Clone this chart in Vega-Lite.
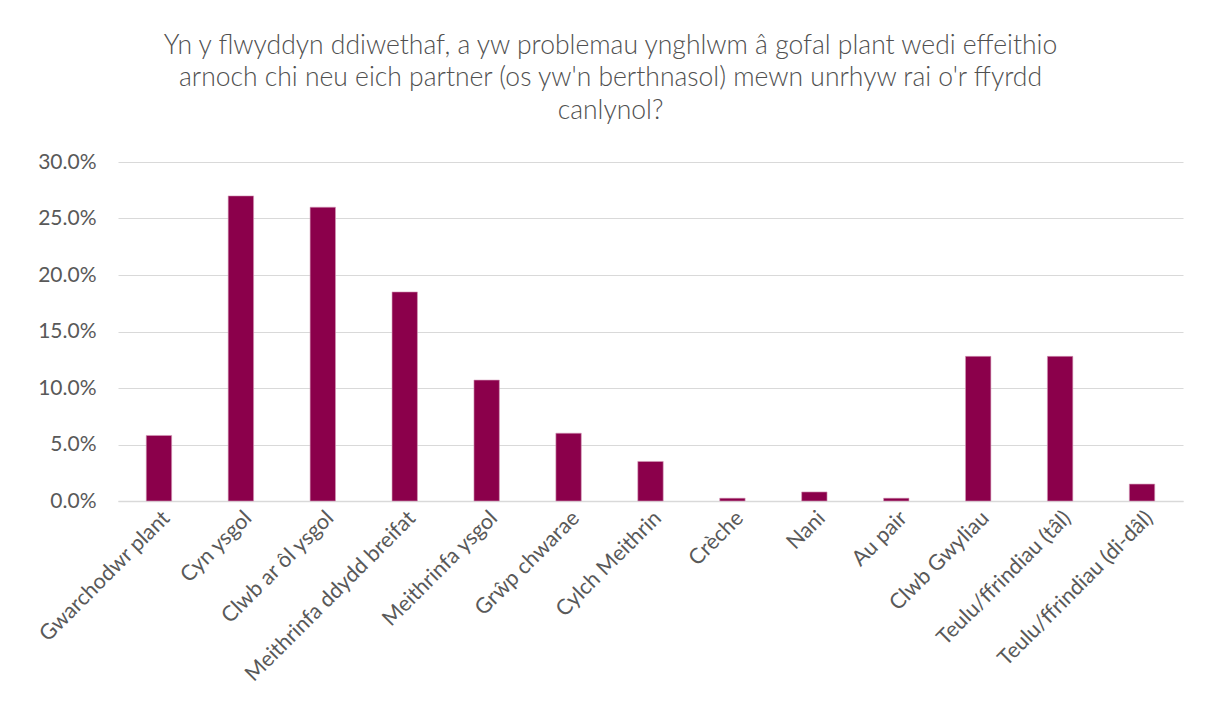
{
  "$schema": "https://vega.github.io/schema/vega-lite/v6.json",
  "width": 1065,
  "height": 339,
  "autosize": {"type": "none"},
  "padding": {"left": 118, "top": 162, "right": 26, "bottom": 219},
  "background": "white",
  "title": {
    "text": ["Yn y flwyddyn ddiwethaf, a yw problemau ynghlwm â gofal plant wedi effeithio", "arnoch chi neu eich partner (os yw'n berthnasol) mewn unrhyw rai o'r ffyrdd", "canlynol?"],
    "font": "Lato",
    "fontSize": 26.5,
    "fontWeight": 300,
    "color": "#505050",
    "lineHeight": 32.5,
    "anchor": "middle",
    "dx": -40,
    "offset": 27
  },
  "data": {
    "values": [
      {"category": "Gwarchodwr plant", "value": 0.058},
      {"category": "Cyn ysgol", "value": 0.270},
      {"category": "Clwb ar ôl ysgol", "value": 0.260},
      {"category": "Meithrinfa ddydd breifat", "value": 0.185},
      {"category": "Meithrinfa ysgol", "value": 0.107},
      {"category": "Grŵp chwarae", "value": 0.060},
      {"category": "Cylch Meithrin", "value": 0.035},
      {"category": "Crèche", "value": 0.0025},
      {"category": "Nani", "value": 0.008},
      {"category": "Au pair", "value": 0.0025},
      {"category": "Clwb Gwyliau", "value": 0.128},
      {"category": "Teulu/ffrindiau (tâl)", "value": 0.128},
      {"category": "Teulu/ffrindiau (di-dâl)", "value": 0.015}
    ]
  },
  "mark": {"type": "bar", "color": "#8B004B", "stroke": "#d59ab8", "strokeWidth": 0.6},
  "encoding": {
    "x": {
      "field": "category",
      "type": "nominal",
      "sort": null,
      "scale": {"paddingInner": 0.69, "paddingOuter": 0.345},
      "axis": {
        "title": null,
        "labelAngle": -45,
        "labelFont": "Lato",
        "labelFontSize": 21.5,
        "labelColor": "#595959",
        "labelPadding": 6,
        "ticks": false,
        "domain": true,
        "domainColor": "#d9d9d9",
        "domainWidth": 1.5,
        "grid": false,
        "labelLimit": 400
      }
    },
    "y": {
      "field": "value",
      "type": "quantitative",
      "scale": {"domain": [0, 0.3]},
      "axis": {
        "title": null,
        "format": ".1%",
        "values": [0, 0.05, 0.1, 0.15, 0.2, 0.25, 0.3],
        "labelFont": "Lato",
        "labelFontSize": 21,
        "labelColor": "#595959",
        "labelPadding": 22,
        "ticks": false,
        "domain": false,
        "grid": true,
        "gridColor": "#d9d9d9",
        "gridWidth": 1.2
      }
    }
  },
  "config": {"view": {"stroke": null}}
}
